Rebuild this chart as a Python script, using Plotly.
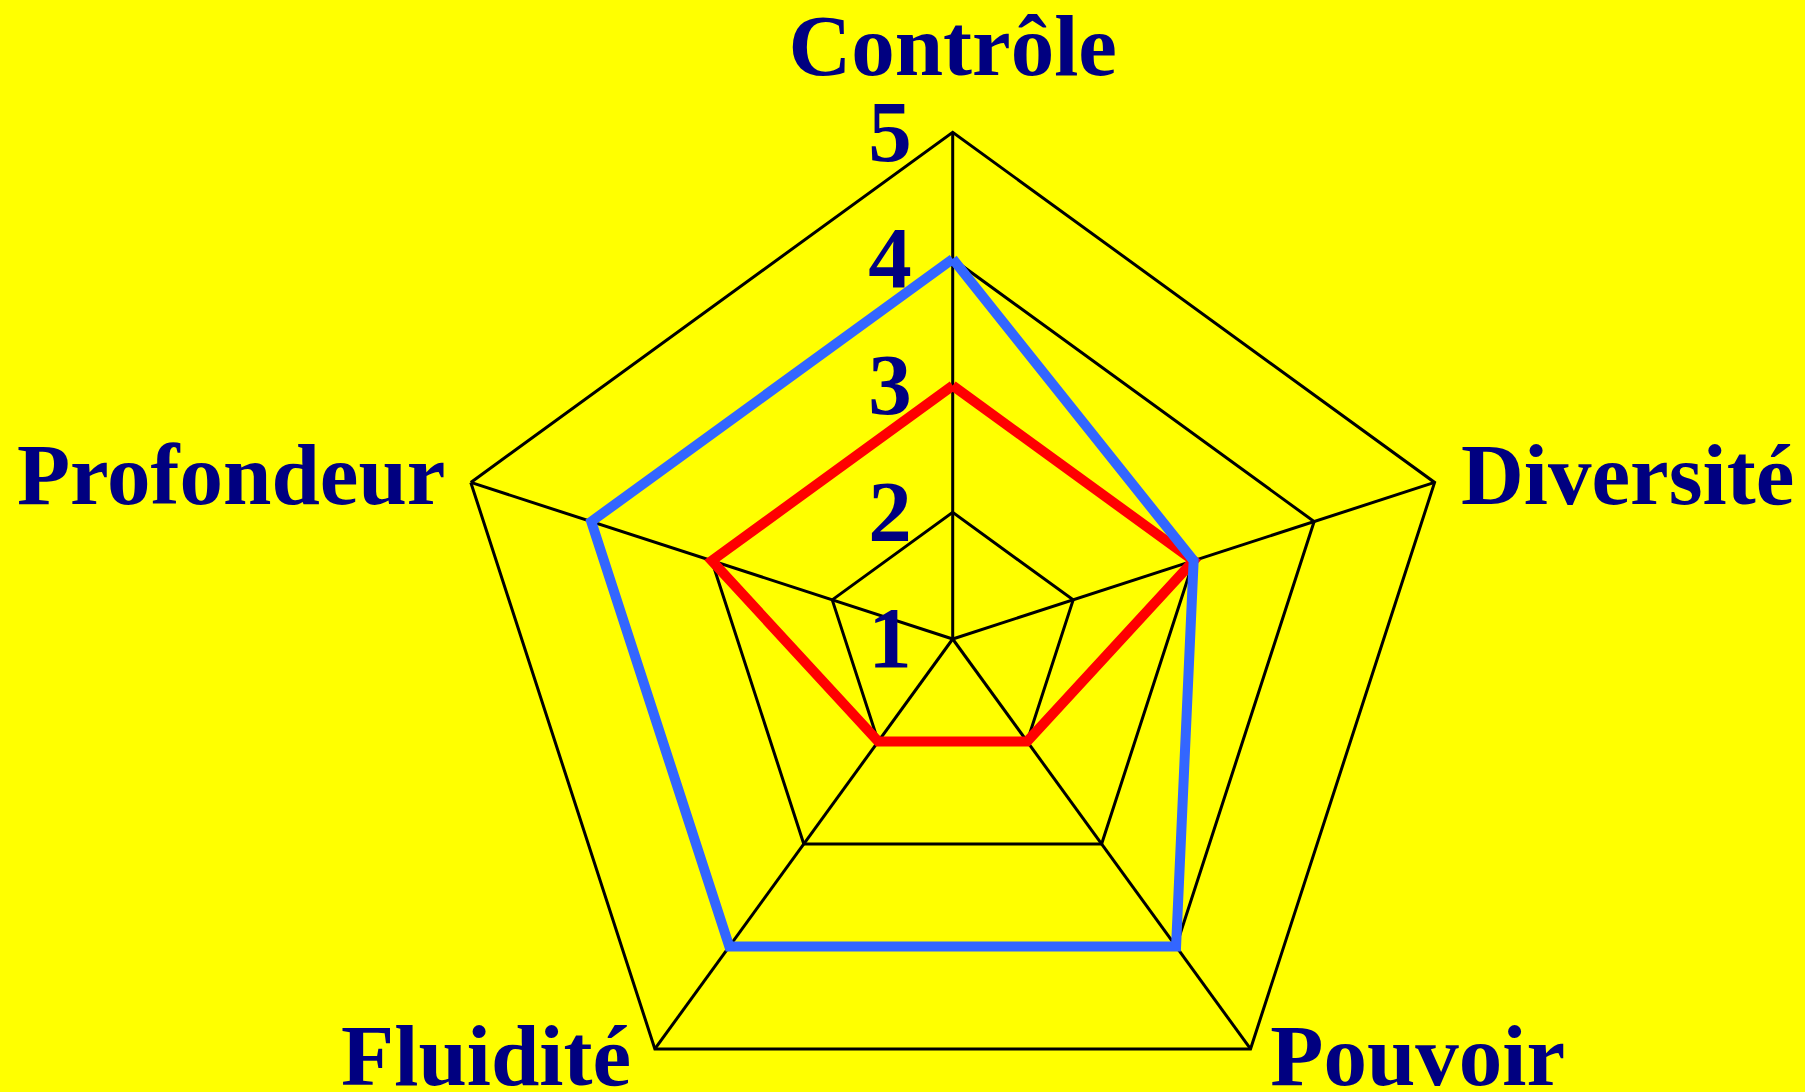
import plotly.graph_objects as go

categories = ["Contrôle", "Diversité", "Pouvoir", "Fluidité", "Profondeur"]
series_red = [3, 3, 2, 2, 3]
series_blue = [4, 3, 4, 4, 4]
radial_ticks = [1, 2, 3, 4, 5]

# category label placement (style only)
upper_text = ["Contrôle", "Diversité", "", "", "Profondeur"]
lower_text = ["", "", "Pouvoir", "Fluidité", ""]
label_pos = ["top center", "middle right", "middle right", "middle left", "middle left"]
upper_pad = [55, 40.5, 0, 0, 39]
lower_pad = [0, 0, 13.4, 19.8, 0]

NAVY = "#000080"
FONT = "Liberation Serif"
FS = 87

W, H = 1805, 1278
cx, cy, R = 952.7, 639.0, 506.7
R2 = R + 17.7

closed = lambda v: v + v[:1]
fig = go.Figure()
fig.add_trace(go.Scatterpolar(
    r=closed(series_red), theta=closed(categories),
    mode="lines", line=dict(color="#ff0000", width=10), showlegend=False, hoverinfo="skip",
))
fig.add_trace(go.Scatterpolar(
    r=closed(series_blue), theta=closed(categories),
    mode="lines", line=dict(color="#3366ff", width=10), showlegend=False, hoverinfo="skip",
))
label_font = dict(family=FONT, size=FS, color=NAVY, weight="bold")
fig.add_trace(go.Scatterpolar(
    r=[5] * len(categories), theta=categories, text=upper_text,
    mode="markers+text", textposition=label_pos,
    marker=dict(size=upper_pad, color="rgba(0,0,0,0)", line=dict(width=0)),
    textfont=label_font, cliponaxis=False, showlegend=False, hoverinfo="skip",
))
fig.add_trace(go.Scatterpolar(
    r=[5] * len(categories), theta=categories, text=lower_text, subplot="polar2",
    mode="markers+text", textposition=label_pos,
    marker=dict(size=lower_pad, color="rgba(0,0,0,0)", line=dict(width=0)),
    textfont=label_font, cliponaxis=False, showlegend=False, hoverinfo="skip",
))

hidden_angular = dict(rotation=90, direction="clockwise", visible=False,
                      categoryorder="array", categoryarray=categories)

fig.update_layout(
    width=W, height=H,
    margin=dict(l=0, r=0, t=0, b=0),
    paper_bgcolor="#ffff00",
    showlegend=False,
    polar=dict(
        domain=dict(x=[(cx - R) / W, (cx + R) / W], y=[(H - cy - R) / H, (H - cy + R) / H]),
        bgcolor="#ffff00",
        gridshape="linear",
        radialaxis=dict(
            range=[1, 5], tickvals=radial_ticks, ticktext=[str(v) for v in radial_ticks],
            angle=90, tickangle=90, side="counterclockwise",
            showline=False, ticks="outside", ticklen=10, tickcolor="rgba(0,0,0,0)",
            gridcolor="black", gridwidth=3,
            tickfont=dict(family=FONT, size=FS, color=NAVY, weight="bold"),
        ),
        angularaxis=dict(
            rotation=90, direction="clockwise",
            categoryorder="array", categoryarray=categories,
            showline=True, linecolor="black", linewidth=3,
            gridcolor="black", gridwidth=3,
            ticks="", showticklabels=False,
        ),
    ),
    polar2=dict(
        domain=dict(x=[(cx - R2) / W, (cx + R2) / W], y=[(H - cy - R2) / H, (H - cy + R2) / H]),
        bgcolor="rgba(0,0,0,0)",
        gridshape="linear",
        radialaxis=dict(range=[1, 5], visible=False),
        angularaxis=hidden_angular,
    ),
)

fig.write_html("out.html", config={"displayModeBar": False},
               post_script="document.body.style.margin='0px';")
